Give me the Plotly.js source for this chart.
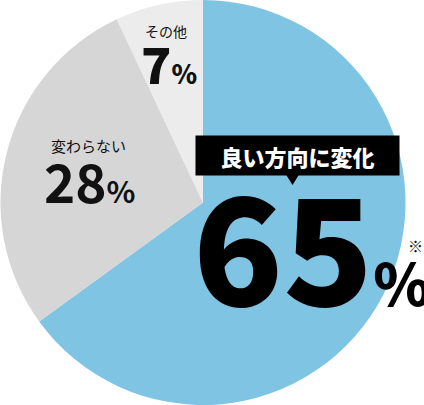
<!DOCTYPE html>
<html>
<head>
<meta charset="utf-8">
<script src="https://cdn.plot.ly/plotly-3.0.1.min.js"></script>
<style>
  html, body { margin: 0; padding: 0; background: #ffffff; }
  #chart { width: 424px; height: 405px; }
</style>
</head>
<body>
<div id="chart"></div>
<script>
const W = 424;
const H = 405;
const FONT = "Noto Sans CJK JP, Noto Sans, sans-serif";

// data
const LABELS = ["良い方向に変化", "変わらない", "その他"];
const VALUES = [65, 28, 7];
const NOTE = "※";

const SLICE_COLORS = ["#7fc5e3", "#d6d6d6", "#ececec"];
const TEXT = "#111111";

// pixel -> paper
const px = (x) => x / W;
const py = (y) => 1 - y / H;

function pctText(value, pctSize) {
  return `${value}<span style="font-size:${pctSize}px">%</span>`;
}

const trace = {
  type: "pie",
  labels: LABELS,
  values: VALUES,
  sort: false,
  direction: "clockwise",
  rotation: 0,
  hole: 0,
  marker: { colors: SLICE_COLORS, line: { width: 0 } },
  textinfo: "none",
  hoverinfo: "skip",
  showlegend: false,
  domain: { x: [0, 406 / W], y: [0, 1] },
};

const annotations = [
  {
    text: LABELS[2],
    x: px(166), y: py(31),
    font: { family: FONT, size: 14, color: TEXT },
  },
  {
    text: pctText(VALUES[2], 26),
    x: px(169), y: py(62),
    font: { family: FONT, size: 50, color: TEXT, weight: 900 },
  },
  {
    text: LABELS[1],
    x: px(88), y: py(145),
    font: { family: FONT, size: 15, color: TEXT },
  },
  {
    text: pctText(VALUES[1], 30),
    x: px(89), y: py(180),
    font: { family: FONT, size: 53, color: TEXT, weight: 700 },
  },
  {
    text: LABELS[0],
    x: px(297.5), y: py(155.5),
    width: 201, height: 37,
    bgcolor: "#000000",
    font: { family: FONT, size: 22, color: "#ffffff", weight: 900 },
  },
  {
    text: pctText(VALUES[0], 58),
    x: px(311), y: py(241),
    font: { family: FONT, size: 148, color: "#000000", weight: 900 },
  },
  {
    text: NOTE,
    x: px(415), y: py(245),
    font: { family: FONT, size: 15, color: TEXT },
  },
].map((a) => Object.assign({
  xref: "paper", yref: "paper",
  xanchor: "center", yanchor: "middle",
  showarrow: false,
}, a));

// pointer under the label box
const shapes = [
  {
    type: "path",
    xref: "paper", yref: "paper",
    path: `M ${px(285)} ${py(173)} L ${px(300)} ${py(173)} L ${px(292.5)} ${py(185)} Z`,
    fillcolor: "#000000",
    line: { width: 0 },
  },
];

const layout = {
  width: W,
  height: H,
  margin: { l: 0, r: 0, t: 0, b: 0 },
  paper_bgcolor: "#ffffff",
  plot_bgcolor: "#ffffff",
  font: { family: FONT },
  annotations,
  shapes,
};

Plotly.newPlot("chart", [trace], layout, { displayModeBar: false, staticPlot: true });
</script>
</body>
</html>
